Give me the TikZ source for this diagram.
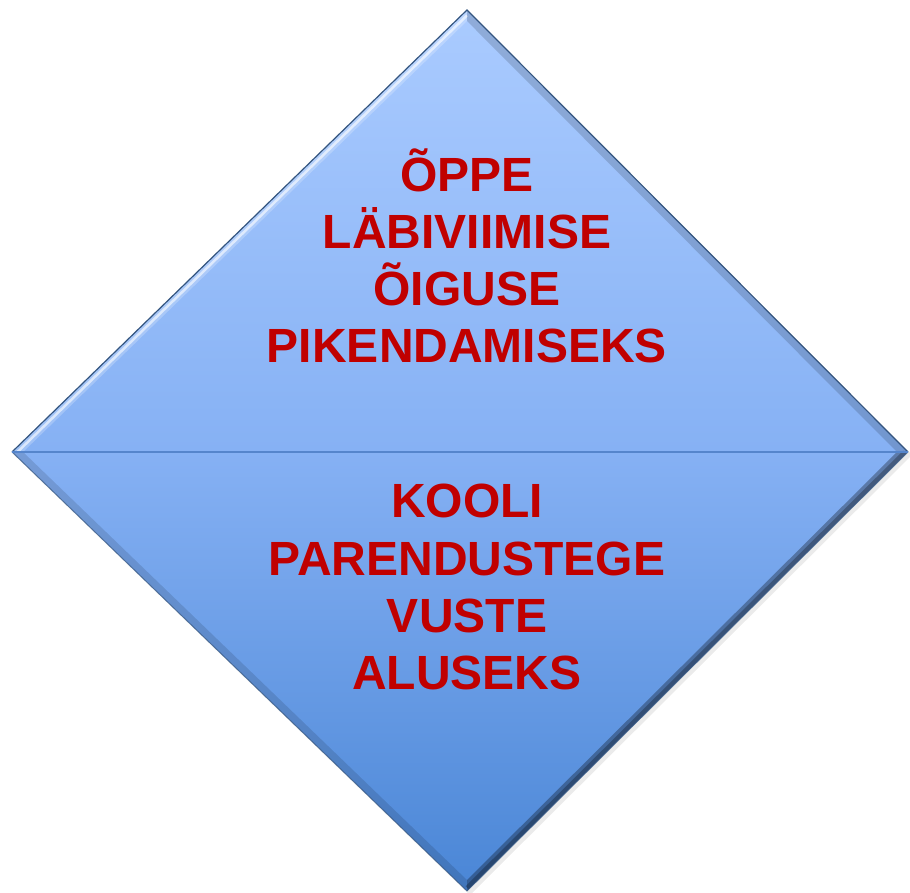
\documentclass[tikz,border=0pt]{standalone}
\usepackage{fontspec}
\setmainfont{Liberation Sans}
\usetikzlibrary{calc}
\definecolor{txtred}{HTML}{C00000}
\definecolor{topblue}{HTML}{AACBFF}
\definecolor{midblue}{HTML}{86B1F4}
\definecolor{botblue}{HTML}{4A86D6}
\definecolor{edgeblue}{HTML}{34557F}
\definecolor{lineblue}{HTML}{5585CC}
\begin{document}
\begin{tikzpicture}[x=1pt,y=1pt,
  lbl/.style={anchor=base, inner sep=0pt, text=txtred, font=\fontsize{48}{57}\selectfont\bfseries}]
\useasboundingbox (0,0) rectangle (910,893);
\coordinate (T) at (467,883);
\coordinate (L) at (12,441);
\coordinate (R) at (908,441);
\coordinate (B) at (467,2);
\coordinate (Ti) at (467,872);
\coordinate (Li) at (23,441);
\coordinate (Ri) at (897,441);
\coordinate (Bi) at (467,13);
% soft shadow
\fill[black, opacity=0.08] ([xshift=3pt,yshift=-3pt]T) -- ([xshift=4pt,yshift=-3pt]R) -- ([xshift=3pt,yshift=-4pt]B) -- ([xshift=3pt,yshift=-3pt]L) -- cycle;
% body
\shade[top color=topblue, bottom color=botblue, middle color=midblue] (T) -- (R) -- (B) -- (L) -- cycle;
% bevel strips
\fill[white, opacity=0.22] (T) -- (Ti) -- (Li) -- (L) -- cycle;
\draw[white, opacity=0.6, line width=2.5pt] ($(T)!0.5!(Ti)$) -- ($(L)!0.5!(Li)$);
\fill[black, opacity=0.15] (T) -- (R) -- (Ri) -- (Ti) -- cycle;
\fill[black, opacity=0.12] (L) -- (Li) -- (Bi) -- (B) -- cycle;
\fill[black, opacity=0.30] (R) -- (B) -- (Bi) -- (Ri) -- cycle;
\draw[black, opacity=0.25, line width=4pt] ($(R)!0.3!(Ri)$) -- ($(B)!0.3!(Bi)$);
\draw[edgeblue, line width=1.2pt] (L) -- (T) -- (R);
\draw[edgeblue, opacity=0.7, line width=1pt] (R) -- (B) -- (L);
% dividing line
\draw[lineblue, line width=2pt] (L) -- (R);
% texts
\node[lbl] (t1) at (467,701) {ÕPPE};
\node[lbl] (t2) at (467,644) {LÄBIVIIMISE};
\node[lbl] (t3) at (467,587) {ÕIGUSE};
\node[lbl] (t4) at (467,530) {PIKENDAMISEKS};
\node[lbl] (b1) at (467,375) {KOOLI};
\node[lbl] (b2) at (467,317) {PARENDUSTEGE};
\node[lbl] (b3) at (467,260) {VUSTE};
\node[lbl] (b4) at (467,203) {ALUSEKS};
\end{tikzpicture}
\end{document}
